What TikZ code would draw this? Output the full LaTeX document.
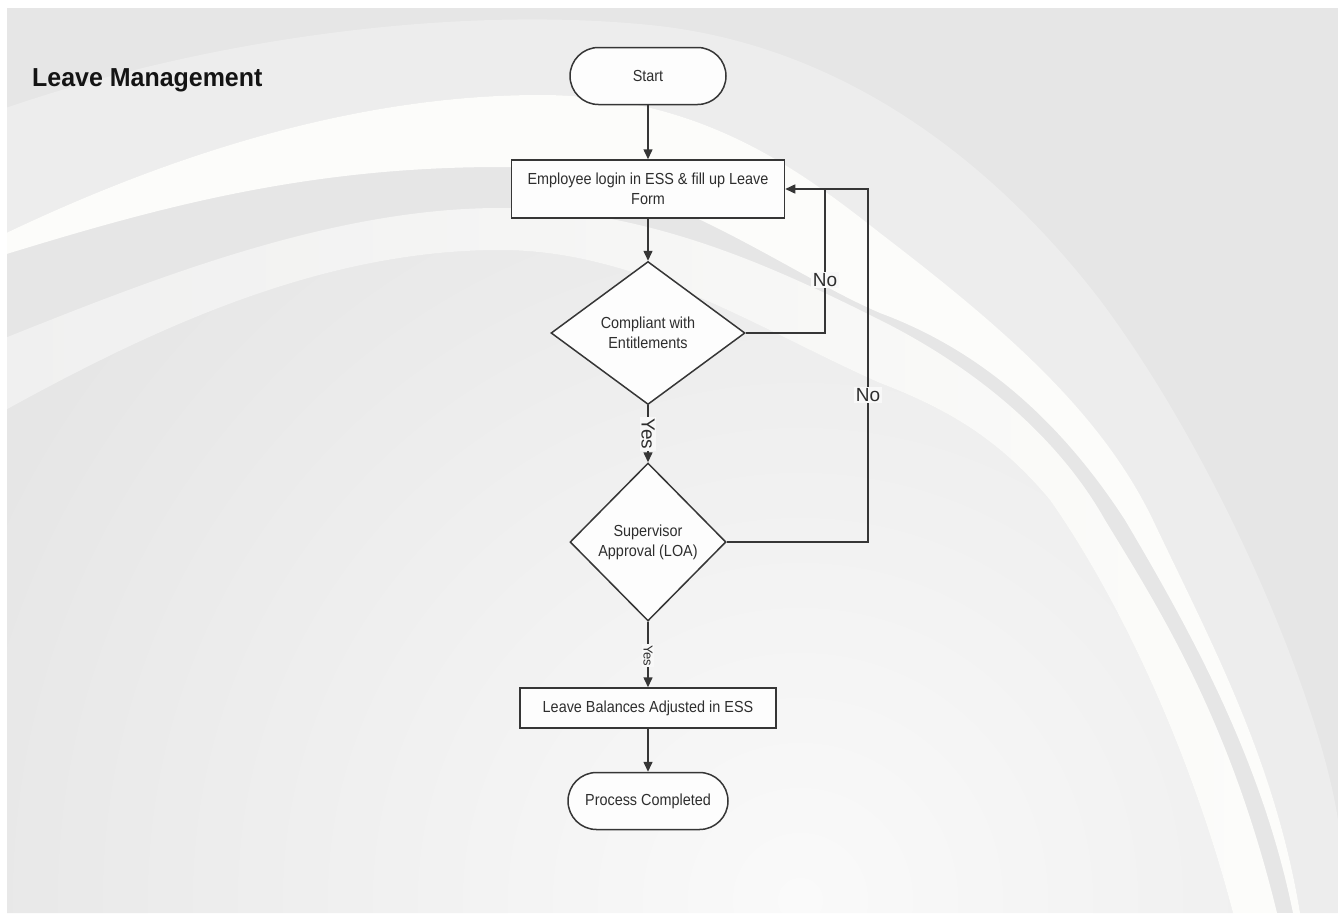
\documentclass[tikz,border=0pt]{standalone}
\usepackage{fontspec}
\setmainfont{Liberation Sans}
\newfontfamily\chartfont{Liberation Sans}[FakeStretch=0.9]
\newfontfamily\headfont{Liberation Sans}[FakeStretch=0.96]
\usetikzlibrary{shapes.geometric,shapes.misc,arrows.meta}

\definecolor{bgbase}{HTML}{E6E6E6}
\definecolor{bghalo}{HTML}{EDEDED}
\definecolor{swoosh}{HTML}{FCFCFA}
\definecolor{swooshgray}{HTML}{F0F0F0}
\definecolor{glow}{HTML}{FAFAFA}
\definecolor{ink}{HTML}{363636}
\definecolor{txt}{HTML}{2E2E2E}
\definecolor{boxfill}{HTML}{FDFDFD}
\definecolor{lblfill}{HTML}{F8F8F8}

\begin{document}
\begin{tikzpicture}[x=1pt,y=-1pt,
  chartnode/.style={draw=ink, line width=1.5pt, fill=boxfill, text=txt,
    font=\chartfont\fontsize{16}{20}\selectfont, align=center, inner sep=0pt},
  procbox/.style={chartnode, rectangle},
  termnode/.style={chartnode, rounded rectangle},
  decnode/.style={chartnode, diamond},
  conn/.style={draw=ink, line width=1.5pt},
  arr/.style={conn, -{Triangle[length=10pt,width=9pt]}},
  lbl/.style={fill=lblfill, text=txt, inner sep=1.5pt, font=\fontsize{19}{22}\selectfont},
  smalllbl/.style={lbl, inner sep=1pt, font=\fontsize{13}{15}\selectfont},
]
\useasboundingbox (0,0) rectangle (1338,913);

% ---------- background ----------
\fill[white] (0,0) rectangle (1338,913);
\begin{scope}
  \clip (7,8) rectangle (1338,913);
  \fill[bgbase] (0,0) rectangle (1338,913);
  % soft glow inside the arc
  \begin{scope}
    \clip (0,413) .. controls (150,330) and (320,250) .. (500,250)
      .. controls (640,250) and (760,330) .. (880,383)
      .. controls (950,410) and (1000,440) .. (1050,500)
      .. controls (1120,600) and (1190,750) .. (1233,913) -- (0,913) -- cycle;
    \shade[inner color=glow, outer color=bgbase] (800,900) circle (900);
  \end{scope}
  % light halo above the main sweep
  \fill[bghalo] (0,110) .. controls (200,40) and (450,5) .. (650,25)
    .. controls (850,45) and (1000,170) .. (1100,300)
    .. controls (1220,460) and (1320,700) .. (1338,820) -- (1338,913) -- (1300,913)
    .. controls (1275,760) and (1210,640) .. (1153,520)
    .. controls (1100,410) and (1000,325) .. (880,233)
    .. controls (800,170) and (700,95) .. (540,95)
    .. controls (380,95) and (200,140) .. (0,236) -- cycle;
  % outer white sweep
  \fill[swoosh] (0,236) .. controls (200,140) and (380,95) .. (540,95)
    .. controls (700,95) and (800,170) .. (880,233)
    .. controls (1000,325) and (1100,410) .. (1153,520)
    .. controls (1210,640) and (1275,760) .. (1300,913) -- (1293,913)
    .. controls (1262,760) and (1190,630) .. (1125,520)
    .. controls (1060,420) and (980,350) .. (880,313)
    .. controls (780,270) and (650,167) .. (500,167)
    .. controls (300,167) and (150,210) .. (0,256) -- cycle;
  % inner sweep
  \shade[left color=swooshgray, right color=swoosh]
    (0,340) .. controls (150,280) and (330,208) .. (500,208)
    .. controls (650,208) and (780,270) .. (880,320)
    .. controls (980,370) and (1060,440) .. (1105,520)
    .. controls (1160,610) and (1230,720) .. (1277,913) -- (1233,913)
    .. controls (1190,750) and (1120,600) .. (1050,500)
    .. controls (1000,440) and (950,410) .. (880,383)
    .. controls (760,330) and (640,250) .. (500,250)
    .. controls (320,250) and (150,330) .. (0,413) -- cycle;
\end{scope}

% ---------- title ----------
\node[anchor=base west, inner sep=0pt, text=black!92,
  font=\headfont\bfseries\fontsize{26}{30}\selectfont] (title) at (32,86) {Leave Management};

% ---------- flowchart ----------
\node[termnode, minimum width=156pt, minimum height=57pt] (start) at (648,76) {Start};
\node[procbox, minimum width=273pt, minimum height=58pt] (form) at (648,189)
  {Employee login in ESS \& fill up Leave\\Form};
\node[decnode, minimum width=194pt, minimum height=143pt] (dec1) at (648,333)
  {Compliant with\\Entitlements};
\node[decnode, minimum width=156pt, minimum height=158pt] (dec2) at (648,542)
  {Supervisor\\Approval (LOA)};
\node[procbox, minimum width=256pt, minimum height=40pt] (bal) at (648,708)
  {Leave Balances Adjusted in ESS};
\node[termnode, minimum width=160pt, minimum height=57pt] (done) at (648,801)
  {Process Completed};

\coordinate (j1) at (825,189);
\coordinate (j2) at (868,189);

\draw[arr] (start.south) -- (form.north);
\draw[arr] (form.south) -- (dec1.north);
\draw[arr] (dec1.south) -- node[lbl, rotate=-90] (yes1) {Yes} (dec2.north);
\draw[arr] (dec2.south) -- node[smalllbl, rotate=-90, pos=0.52] (yes2) {Yes} (bal.north);
\draw[arr] (bal.south) -- (done.north);

\draw[arr] (dec1.east) -| node[lbl, pos=0.684] (no1) {No} (j1) -- (form.east);
\draw[conn] (dec2.east) -| node[lbl, pos=0.708] (no2) {No} (j2) -- (j1);
\end{tikzpicture}
\end{document}
